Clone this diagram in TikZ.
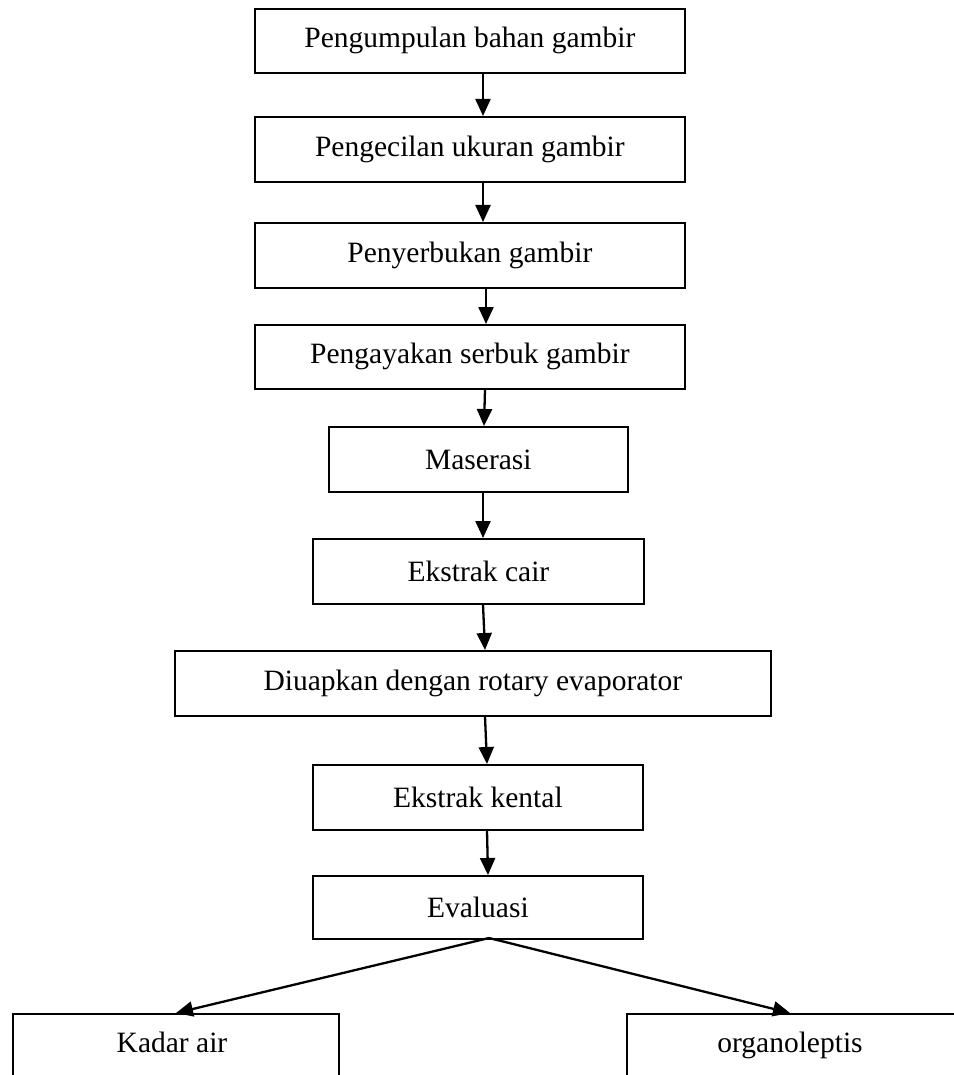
\documentclass[tikz,border=0pt]{standalone}
\usepackage{fontspec}
\setmainfont{Liberation Serif}
\usetikzlibrary{arrows.meta}
\begin{document}
\begin{tikzpicture}[x=1pt,y=-1pt,
  box/.style={draw=black,line width=1.8pt,fill=white,inner sep=0pt,anchor=north west,
    font=\fontsize{29.5}{34}\selectfont},
  arr/.style={line width=2.3pt,-{Triangle[length=17pt,width=15pt]}},
  lbl/.style={anchor=base,font=\fontsize{29.5}{34}\selectfont,inner sep=0pt}]
\useasboundingbox (0,0) rectangle (953,1075);
\node[box,minimum width=430pt,minimum height=64pt] (b1) at (254,8) {Pengumpulan bahan gambir};
\node[box,minimum width=430pt,minimum height=65pt] (b2) at (254,116) {Pengecilan ukuran gambir};
\node[box,minimum width=430pt,minimum height=65pt] (b3) at (254,222) {Penyerbukan gambir};
\node[box,minimum width=430pt,minimum height=64pt] (b4) at (254,324) {Pengayakan serbuk gambir};
\node[box,minimum width=299pt,minimum height=65pt] (b5) at (328,426) {Maserasi};
\node[box,minimum width=331pt,minimum height=65pt] (b6) at (312,538) {Ekstrak cair};
\node[box,minimum width=596pt,minimum height=65pt] (b7) at (174,650) {Diuapkan dengan rotary evaporator};
\node[box,minimum width=330pt,minimum height=65pt] (b8) at (312,764) {Ekstrak kental};
\node[box,minimum width=330pt,minimum height=63pt] (b9) at (312,875) {Evaluasi};
\node[box,minimum width=326pt,minimum height=80pt] (b10) at (12,1013) {};
\node[box,minimum width=344pt,minimum height=80pt] (b11) at (626,1013) {};
\node[lbl] (t10) at (172,1052) {Kadar air};
\node[lbl] (t11) at (790,1052) {organoleptis};
\coordinate (ev) at (489,938);
\draw[arr] (b1.south -| 483,0) -- (b2.north -| 483,0);
\draw[arr] (b2.south -| 483,0) -- (b3.north -| 483,0);
\draw[arr] (b3.south -| 486,0) -- (b4.north -| 486,0);
\draw[arr] (b4.south -| 485,0) -- (b5.north -| 484,0);
\draw[arr] (b5.south -| 483,0) -- (b6.north -| 483,0);
\draw[arr] (b6.south -| 483,0) -- (b7.north -| 485,0);
\draw[arr] (b7.south -| 485,0) -- (b8.north -| 487,0);
\draw[arr] (b8.south -| 487,0) -- (b9.north -| 488,0);
\draw[arr] (ev) -- (b10.north -| 176,0);
\draw[arr] (ev) -- (b11.north -| 790,0);
\end{tikzpicture}
\end{document}
